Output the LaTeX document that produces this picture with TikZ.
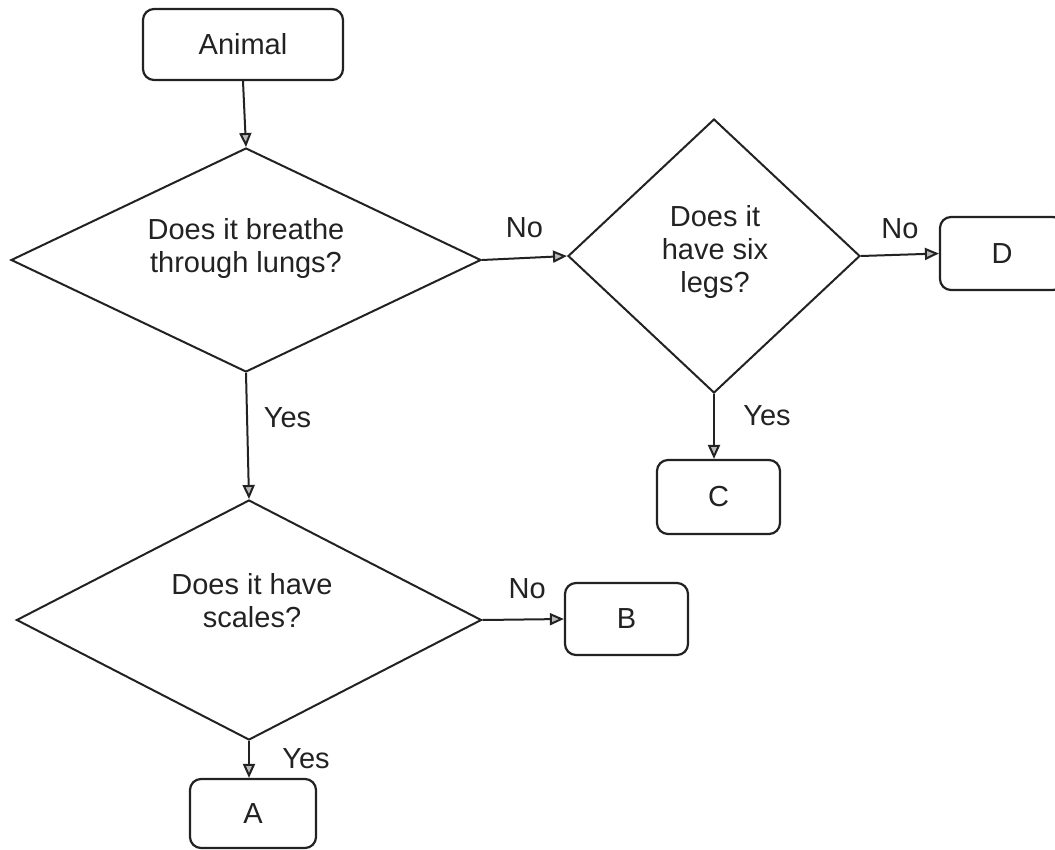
\documentclass[tikz,border=0pt]{standalone}
\usepackage{fontspec}
\setmainfont{Liberation Sans}
\usetikzlibrary{shapes.geometric,arrows.meta}
\definecolor{ink}{HTML}{222222}
\begin{document}
\begin{tikzpicture}[x=1pt,y=-1pt,
  every node/.style={font=\fontsize{29}{33}\selectfont, text=ink},
  box/.style={draw=ink, line width=2.2pt, rounded corners=11pt, inner sep=0pt},
  decision/.style={draw=ink, diamond, line width=2pt, inner sep=0pt},
  qtext/.style={align=center, inner sep=0pt},
  conn/.style={draw=ink, line width=2pt, -{Triangle[length=14pt,width=12pt,fill=gray!55]}},
  lbl/.style={inner sep=0pt}
]
\useasboundingbox (0,0) rectangle (1055,849);
\clip (0,0) rectangle (1055,849);

% boxes
\node[box, minimum width=200pt, minimum height=71pt] (animal) at (243,44.5) {Animal};
\node[box, minimum width=124pt, minimum height=73pt] (d) at (1002,253.5) {D};
\node[box, minimum width=123pt, minimum height=74pt] (c) at (718.5,497) {C};
\node[box, minimum width=123pt, minimum height=72pt] (b) at (626.5,619) {B};
\node[box, minimum width=126pt, minimum height=69pt] (a) at (253,813.5) {A};

% decisions
\node[decision, minimum width=470pt, minimum height=224pt] (q1) at (246,260) {};
\node[decision, minimum width=292pt, minimum height=274pt] (q2) at (714,256) {};
\node[decision, minimum width=465pt, minimum height=240pt] (q3) at (249,620) {};

\node[qtext] (q1t) at (246,248) {Does it breathe\\through lungs?};
\node[qtext] (q2t) at (715,252) {Does it\\have six\\legs?};
\node[qtext] (q3t) at (252,601) {Does it have\\scales?};

% connectors
\draw[conn] (animal.south) -- (q1.north);
\draw[conn] (q1.east) -- (q2.west) node[lbl, midway, yshift=30pt] (no1) {No};
\draw[conn] (q2.east) -- (d.west) node[lbl, midway, yshift=26pt] (no2) {No};
\draw[conn] (q2.south) -- (q2.south |- c.north) node[lbl, midway, xshift=53pt, yshift=11pt] (yes2) {Yes};
\draw[conn] (q1.south) -- (q3.north) node[lbl, midway, xshift=40pt, yshift=18pt] (yes1) {Yes};
\draw[conn] (q3.east) -- (b.west) node[lbl, midway, xshift=4pt, yshift=31pt] (no3) {No};
\draw[conn] (q3.south) -- (q3.south |- a.north) node[lbl, midway, xshift=57pt, yshift=1pt] (yes3) {Yes};
\end{tikzpicture}
\end{document}
